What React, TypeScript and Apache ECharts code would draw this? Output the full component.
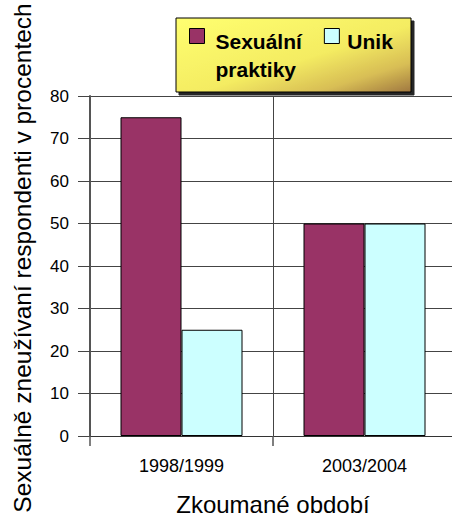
import React, { useEffect, useRef } from "react";
import * as echarts from "echarts";

const categories = ["1998/1999", "2003/2004"];
const sexualniPraktiky = [75, 50];
const unik = [25, 50];
const yTicks = { min: 0, max: 80, interval: 10 };
const legendNames = ["Sexuální praktiky", "Unik"];

const FONT = "'Liberation Sans', Arial, sans-serif";

export default function App() {
  const ref = useRef<HTMLDivElement>(null);
  useEffect(() => {
    if (!ref.current) return;
    const chart = echarts.init(ref.current, undefined, { renderer: "svg" });
    chart.setOption({
      animation: false,
      backgroundColor: "#ffffff",
      textStyle: { fontFamily: FONT },
      grid: {
        left: 90,
        right: -4,
        top: 96,
        bottom: 85,
        containLabel: false,
        outerBoundsMode: "none",
      },
      graphic: [
        {
          type: "rect",
          z: 0,
          shape: { x: 176, y: 18, width: 235, height: 74 },
          style: {
            fill: new echarts.graphic.LinearGradient(0, 0, 1, 1, [
              { offset: 0, color: "#ffff70" },
              { offset: 0.55, color: "#f4ec62" },
              { offset: 0.8, color: "#d8be55" },
              { offset: 1, color: "#a07840" },
            ]),
            stroke: "#000",
            lineWidth: 1,
            shadowColor: "rgba(0,0,0,0.85)",
            shadowOffsetX: 3,
            shadowOffsetY: 3,
            shadowBlur: 0,
          },
        },
      ],
      legend: {
        z: 10,
        left: 189,
        top: -11,
        padding: 0,
        orient: "horizontal",
        icon: "rect",
        itemWidth: 15,
        itemHeight: 15,
        itemGap: 22,
        itemStyle: { borderColor: "#000", borderWidth: 1 },
        data: legendNames,
        formatter: (name: string) =>
          name === legendNames[0]
            ? "{e| }\n{a|Sexuální}\n{a|praktiky}"
            : "{b|" + name + "}",
        textStyle: {
          fontFamily: FONT,
          fontWeight: "bold",
          fontSize: 21,
          color: "#000",
          rich: {
            e: { fontSize: 21, lineHeight: 38, height: 38 },
            a: {
              fontFamily: FONT,
              fontWeight: "bold",
              fontSize: 21,
              lineHeight: 28,
              color: "#000",
              padding: [0, 0, 0, 6],
            },
            b: {
              fontFamily: FONT,
              fontWeight: "bold",
              fontSize: 21,
              lineHeight: 28,
              color: "#000",
              padding: [10, 0, 0, 3],
            },
          },
        },
      },
      xAxis: {
        type: "category",
        data: categories,
        name: "Zkoumané období",
        nameLocation: "middle",
        nameGap: 56,
        nameTextStyle: { fontFamily: FONT, fontSize: 24, color: "#000" },
        axisLine: { show: true, lineStyle: { color: "#333", width: 1 } },
        axisTick: { show: true, interval: 0, length: 10, lineStyle: { color: "#555", width: 1.5 } },
        axisLabel: { fontFamily: FONT, fontSize: 18, color: "#000", margin: 21, interval: 0 },
        splitLine: { show: true, interval: 0, lineStyle: { color: "#444", width: 1 } },
      },
      yAxis: {
        type: "value",
        min: yTicks.min,
        max: yTicks.max,
        interval: yTicks.interval,
        name: "Sexuálně zneužívaní respondenti v procentech",
        nameLocation: "middle",
        nameRotate: 90,
        nameGap: 55,
        nameTextStyle: {
          fontFamily: FONT,
          fontSize: 24.5,
          color: "#000",
          padding: [0, 0, 0, 16],
        },
        axisLine: { show: true, lineStyle: { color: "#555", width: 2 } },
        axisTick: { show: true, length: 12, lineStyle: { color: "#444", width: 1 } },
        axisLabel: { fontFamily: FONT, fontSize: 17, color: "#000", margin: 21 },
        splitLine: { show: true, lineStyle: { color: "#444", width: 1 } },
      },
      series: [
        {
          name: legendNames[0],
          type: "bar",
          data: sexualniPraktiky,
          barWidth: 61,
          barGap: "0%",
          itemStyle: { color: "#993366", borderColor: "#000", borderWidth: 1 },
        },
        {
          name: legendNames[1],
          type: "bar",
          data: unik,
          barWidth: 61,
          barGap: "0%",
          itemStyle: { color: "#ccffff", borderColor: "#000", borderWidth: 1 },
        },
      ],
    });
    return () => chart.dispose();
  }, []);
  return (
    <div
      ref={ref}
      style={{ position: "fixed", left: 0, top: 0, width: 452, height: 521 }}
    />
  );
}
